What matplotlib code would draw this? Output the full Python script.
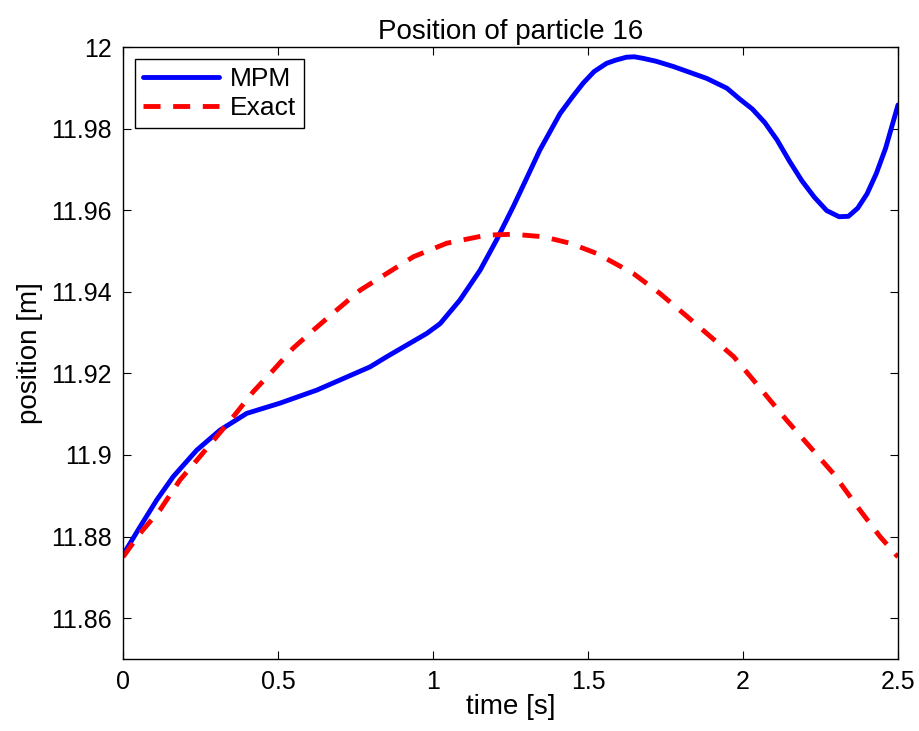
import matplotlib
matplotlib.use("Agg")
import matplotlib.pyplot as plt

# values
mpm_t = [0.0, 0.055, 0.109, 0.162, 0.238, 0.313, 0.399, 0.506, 0.625, 0.797, 0.851,
         0.937, 0.98, 1.023, 1.087, 1.152, 1.205, 1.259, 1.3, 1.345, 1.41, 1.45,
         1.485, 1.52, 1.56, 1.59, 1.624, 1.65, 1.679, 1.72, 1.776, 1.883, 1.948,
         1.99, 2.03, 2.07, 2.11, 2.15, 2.19, 2.23, 2.27, 2.31, 2.34, 2.37, 2.4,
         2.43, 2.46, 2.5]
mpm_x = [11.8755, 11.8824, 11.889, 11.8947, 11.9012, 11.9061, 11.9102, 11.9127,
         11.9159, 11.9216, 11.9241, 11.9279, 11.9298, 11.9322, 11.938, 11.9453,
         11.9527, 11.9609, 11.9675, 11.9748, 11.9837, 11.9878, 11.9912, 11.9940,
         11.996, 11.9968, 11.9975, 11.9976, 11.9972, 11.9965, 11.9952, 11.9923,
         11.9899, 11.9872, 11.9848, 11.9815, 11.9772, 11.972, 11.9672, 11.9632,
         11.9599, 11.9584, 11.9585, 11.9605, 11.964, 11.969, 11.9752, 11.9858]

exact_t = [0.0, 0.055, 0.119, 0.184, 0.248, 0.302, 0.356, 0.42, 0.485, 0.549, 0.614,
           0.689, 0.765, 0.851, 0.937, 1.044, 1.173, 1.259, 1.356, 1.442, 1.528,
           1.646, 1.732, 1.808, 1.883, 1.97, 2.033, 2.14, 2.216, 2.291, 2.377,
           2.442, 2.5]
exact_x = [11.875, 11.8808, 11.8865, 11.8939, 11.8996, 11.9045, 11.9094, 11.9155,
           11.9208, 11.9262, 11.9306, 11.9355, 11.9404, 11.9445, 11.9486, 11.9519,
           11.9539, 11.9541, 11.9535, 11.9519, 11.9494, 11.9445, 11.9396, 11.9347,
           11.9298, 11.9241, 11.9184, 11.9086, 11.902, 11.8955, 11.8865, 11.88,
           11.875]

xticks = [0, 0.5, 1, 1.5, 2, 2.5]
xtick_labels = ["0", "0.5", "1", "1.5", "2", "2.5"]
yticks = [11.86, 11.88, 11.9, 11.92, 11.94, 11.96, 11.98, 12]
ytick_labels = ["11.86", "11.88", "11.9", "11.92", "11.94", "11.96", "11.98", "12"]

plt.rcParams["font.family"] = ["Liberation Sans", "DejaVu Sans"]

fig = plt.figure(figsize=(9.2, 7.31), dpi=100)
ax = fig.add_axes([0.1337, 0.0985, 0.8424, 0.8372])

ax.plot(mpm_t, mpm_x, color="#0000ff", lw=3.5, label="MPM",
        solid_capstyle="round", solid_joinstyle="round")
ax.plot(exact_t, exact_x, color="#ff0000", lw=3.5, dashes=(3.5, 2.6), label="Exact")

ax.set_xlim(0, 2.5)
ax.set_ylim(11.85, 12)
ax.set_xticks(xticks)
ax.set_xticklabels(xtick_labels)
ax.set_yticks(yticks)
ax.set_yticklabels(ytick_labels)
ax.tick_params(direction="in", top=True, right=True, length=6, width=0.8,
               labelsize=18, pad=8)
for s in ax.spines.values():
    s.set_linewidth(1.0)

ax.set_title("Position of particle 16", fontsize=20, pad=6)
ax.set_xlabel("time [s]", fontsize=20, labelpad=0)
ax.set_ylabel("position [m]", fontsize=20, labelpad=6)

leg = ax.legend(loc="upper left", fontsize=19, fancybox=False, framealpha=1,
                edgecolor="black", handlelength=2.9, borderpad=0.3,
                labelspacing=0.2, handletextpad=0.4, borderaxespad=0.45)
leg.get_frame().set_linewidth(1.0)

fig.savefig("out.png", dpi=100)
